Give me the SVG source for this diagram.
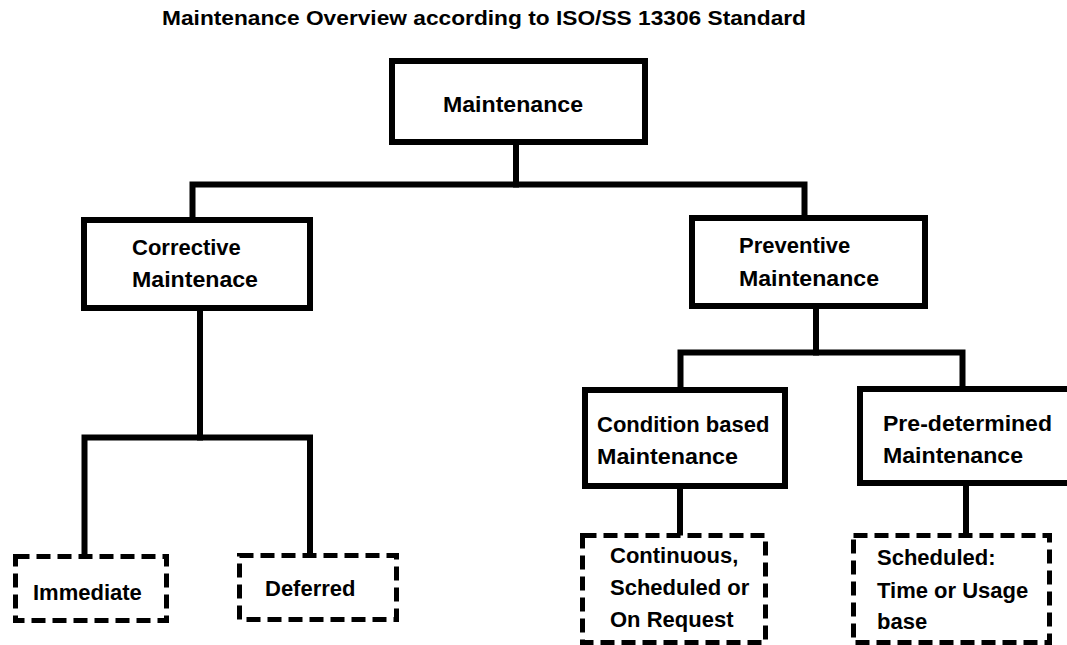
<svg xmlns="http://www.w3.org/2000/svg" width="1067" height="645" viewBox="0 0 1067 645">
<style>
.box{fill:#fff;stroke:#000;stroke-width:6}
.dash{fill:#fff;stroke:#000;stroke-width:5;stroke-dasharray:14 7}
.conn{fill:none;stroke:#000;stroke-width:6;stroke-linejoin:miter;stroke-linecap:square}
text{font-family:"Liberation Sans",Arial,sans-serif;font-weight:bold;font-size:22px;fill:#000}
.title{font-size:20px}
</style>
<rect width="1067" height="645" fill="#fff"/>
<text class="title" x="162" y="25" textLength="644" lengthAdjust="spacingAndGlyphs">Maintenance Overview according to ISO/SS 13306 Standard</text>
<g id="connectors">
<polyline class="conn" points="516,145 516,184.5"/>
<polyline class="conn" points="192.5,217 192.5,184.5 804.5,184.5 804.5,215"/>
<polyline class="conn" points="200,310 200,437.5"/>
<polyline class="conn" points="84.5,555 84.5,437.5 310,437.5 310,554"/>
<polyline class="conn" points="816,309 816,352.5"/>
<polyline class="conn" points="680.5,387 680.5,352.5 962.5,352.5 962.5,386"/>
<polyline class="conn" points="680,489 680,533"/>
<polyline class="conn" points="966,486 966,533"/>
</g>
<g id="maintenance">
<rect class="box" x="392" y="61" width="253" height="81"/>
<text x="443" y="112" textLength="140" lengthAdjust="spacingAndGlyphs">Maintenance</text>
</g>
<g id="corrective">
<rect class="box" x="84" y="220" width="226" height="88"/>
<text x="132" y="255">Corrective</text>
<text x="132" y="287" textLength="126" lengthAdjust="spacingAndGlyphs">Maintenace</text>
</g>
<g id="preventive">
<rect class="box" x="692" y="218" width="233" height="88"/>
<text x="739" y="253">Preventive</text>
<text x="739" y="286" textLength="140" lengthAdjust="spacingAndGlyphs">Maintenance</text>
</g>
<g id="condition">
<rect class="box" x="585" y="390" width="200" height="96"/>
<text x="597" y="432">Condition based</text>
<text x="597" y="464" textLength="141" lengthAdjust="spacingAndGlyphs">Maintenance</text>
</g>
<g id="predetermined">
<rect class="box" x="860" y="389" width="220" height="94"/>
<text x="883" y="431" textLength="169" lengthAdjust="spacingAndGlyphs">Pre-determined</text>
<text x="883" y="463" textLength="140" lengthAdjust="spacingAndGlyphs">Maintenance</text>
</g>
<g id="immediate">
<rect class="dash" x="15.5" y="556.5" width="151" height="64"/>
<text x="33" y="600">Immediate</text>
</g>
<g id="deferred">
<rect class="dash" x="239.5" y="555.5" width="157" height="64"/>
<text x="265" y="596">Deferred</text>
</g>
<g id="continuous">
<rect class="dash" x="582.5" y="535.5" width="183" height="107"/>
<text x="610" y="563">Continuous,</text>
<text x="610" y="595">Scheduled or</text>
<text x="610" y="627">On Request</text>
</g>
<g id="scheduled">
<rect class="dash" x="853.5" y="535.5" width="196" height="107"/>
<text x="877" y="565">Scheduled:</text>
<text x="877" y="598">Time or Usage</text>
<text x="877" y="629">base</text>
</g>
</svg>
